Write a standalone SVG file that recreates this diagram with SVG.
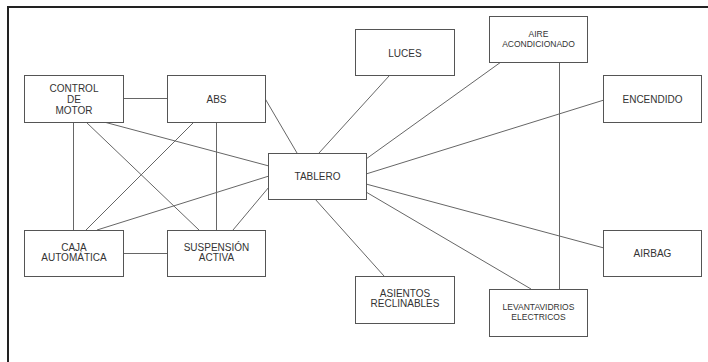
<svg xmlns="http://www.w3.org/2000/svg" width="708" height="362" viewBox="0 0 708 362">
  <style>
    .box { fill: #ffffff; stroke: #555555; stroke-width: 1; }
    .lbl { font-family: "Liberation Sans", Arial, sans-serif; font-size: 10px; fill: #333333; text-anchor: middle; }
    .sm { font-size: 8.5px; }
    .link { stroke: #666666; stroke-width: 1; fill: none; }
    .frame { stroke: #222222; stroke-width: 2; fill: none; }
  </style>
  <rect width="708" height="362" fill="#ffffff"/>

  <!-- outer frame: top and left edges only -->
  <path class="frame" d="M8,362 V7 H708"/>

  <g id="connectors">
    <line class="link" x1="123" y1="98.5" x2="167" y2="98.5"/>
    <line class="link" x1="73.5" y1="122" x2="73.5" y2="230"/>
    <line class="link" x1="86" y1="122" x2="199" y2="230"/>
    <line class="link" x1="104" y1="122" x2="269" y2="166"/>
    <line class="link" x1="194" y1="122" x2="86" y2="230"/>
    <line class="link" x1="216.5" y1="122" x2="216.5" y2="230"/>
    <line class="link" x1="265" y1="98.5" x2="297" y2="153"/>
    <line class="link" x1="97" y1="230" x2="269" y2="176"/>
    <line class="link" x1="233" y1="230" x2="269" y2="187"/>
    <line class="link" x1="123" y1="253.5" x2="167" y2="253.5"/>
    <line class="link" x1="319" y1="153" x2="389" y2="76"/>
    <line class="link" x1="366" y1="159" x2="501" y2="62"/>
    <line class="link" x1="366" y1="174" x2="604" y2="100"/>
    <line class="link" x1="366" y1="184" x2="604" y2="248"/>
    <line class="link" x1="366" y1="192" x2="531" y2="289"/>
    <line class="link" x1="315" y1="199" x2="384" y2="276"/>
    <line class="link" x1="559.5" y1="62" x2="559.5" y2="289"/>
  </g>

  <g id="control-motor">
    <rect class="box" x="24.5" y="75.5" width="99" height="47"/>
    <text class="lbl" x="74" y="91.5">CONTROL</text>
    <text class="lbl" x="74" y="102.5">DE</text>
    <text class="lbl" x="74" y="113.5">MOTOR</text>
  </g>
  <g id="abs">
    <rect class="box" x="167.5" y="75.5" width="98" height="47"/>
    <text class="lbl" x="216.5" y="102.5">ABS</text>
  </g>
  <g id="tablero">
    <rect class="box" x="268.5" y="153.5" width="98" height="46"/>
    <text class="lbl" x="317.5" y="180">TABLERO</text>
  </g>
  <g id="luces">
    <rect class="box" x="355.5" y="29.5" width="99" height="46"/>
    <text class="lbl" x="405" y="56.5">LUCES</text>
  </g>
  <g id="aire-acondicionado">
    <rect class="box" x="489.5" y="16.5" width="98" height="46"/>
    <text class="lbl sm" x="538.5" y="37">AIRE</text>
    <text class="lbl sm" x="538.5" y="47">ACONDICIONADO</text>
  </g>
  <g id="encendido">
    <rect class="box" x="603.5" y="75.5" width="98" height="47"/>
    <text class="lbl" x="652.5" y="102.5">ENCENDIDO</text>
  </g>
  <g id="caja-automatica">
    <rect class="box" x="24.5" y="230.5" width="99" height="46"/>
    <text class="lbl" x="74" y="250.5">CAJA</text>
    <text class="lbl" x="74" y="261">AUTOMÁTICA</text>
  </g>
  <g id="suspension-activa">
    <rect class="box" x="167.5" y="230.5" width="98" height="46"/>
    <text class="lbl" x="216.5" y="250.5">SUSPENSIÓN</text>
    <text class="lbl" x="216.5" y="261">ACTIVA</text>
  </g>
  <g id="asientos-reclinables">
    <rect class="box" x="355.5" y="276.5" width="99" height="47"/>
    <text class="lbl" x="405" y="296.5">ASIENTOS</text>
    <text class="lbl" x="405" y="307">RECLINABLES</text>
  </g>
  <g id="levantavidrios">
    <rect class="box" x="489.5" y="289.5" width="98" height="47"/>
    <text class="lbl sm" x="538.5" y="310">LEVANTAVIDRIOS</text>
    <text class="lbl sm" x="538.5" y="320">ELECTRICOS</text>
  </g>
  <g id="airbag">
    <rect class="box" x="603.5" y="230.5" width="98" height="46"/>
    <text class="lbl" x="652.5" y="256.5">AIRBAG</text>
  </g>
</svg>
